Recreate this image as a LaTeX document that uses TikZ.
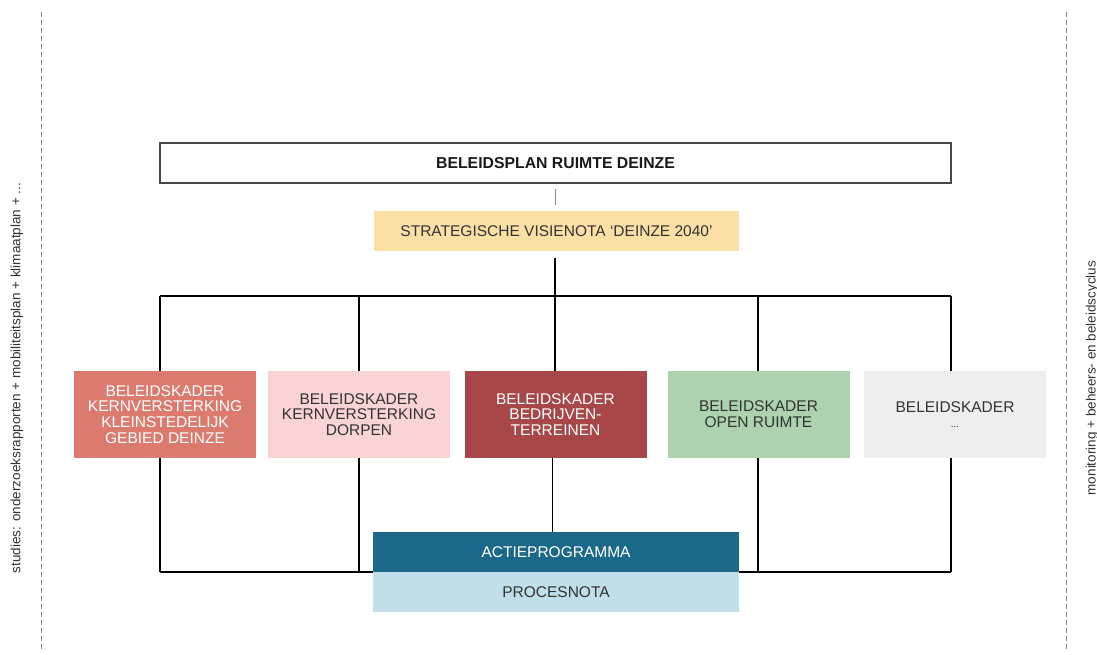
\documentclass[tikz,border=0pt]{standalone}
\usepackage{fontspec}
\setmainfont{Liberation Sans}
\definecolor{txtdark}{HTML}{333333}
\definecolor{stratfill}{HTML}{FBE0A6}
\definecolor{kaderA}{HTML}{DB7B70}
\definecolor{kaderB}{HTML}{FAD4D4}
\definecolor{kaderC}{HTML}{A8474A}
\definecolor{kaderD}{HTML}{ACD3AD}
\definecolor{kaderE}{HTML}{EEEEEE}
\definecolor{actiefill}{HTML}{1B6888}
\definecolor{procesfill}{HTML}{C1DFE8}
\definecolor{dashgray}{HTML}{888888}
\begin{document}
\begin{tikzpicture}[x=1pt,y=-1pt,
  boxtext/.style={inner sep=0pt, align=center, font=\fontsize{15.5}{15.7}\selectfont},
  kader/.style={boxtext, minimum width=182pt, minimum height=87pt},
  darktxt/.style={text=txtdark},
  lighttxt/.style={text=white},
  frameline/.style={draw=black, line width=1.2pt},
  sidetext/.style={rotate=90, inner sep=0pt, text=txtdark, font=\fontsize{13.5}{15}\selectfont},
  sideline/.style={draw=dashgray, line width=1pt, dash pattern=on 5pt off 3pt}]
\useasboundingbox (0,0) rectangle (1097,655);
\fill[white] (0,0) rectangle (1097,655);

% side dashed lines
\coordinate (lt) at (41,12); \coordinate (lb) at (41,650);
\coordinate (rt) at (1066,12); \coordinate (rb) at (1066,650);
\draw[sideline] (lt) -- (lb);
\draw[sideline] (rt) -- (rb);
\node[sidetext] (studies) at (17,378) {studies: onderzoeksrapporten + mobiliteitsplan + klimaatplan + ...};
\node[sidetext] (monitoring) at (1092,378) {monitoring + beheers- en beleidscyclus};

% frame coordinates
\coordinate (hub) at (555,296);
\coordinate (t1) at (160,296); \coordinate (b1) at (160,572);
\coordinate (t2) at (359,296); \coordinate (b2) at (359,572);
\coordinate (t4) at (758,296); \coordinate (b4) at (758,572);
\coordinate (t5) at (951,296); \coordinate (b5) at (951,572);

% top boxes
\node[boxtext, draw=txtdark!90, line width=1.3pt, minimum width=791pt, minimum height=40pt, text=black!90, font=\fontsize{15.8}{16}\selectfont\bfseries] (plan) at (555.5,163) {BELEIDSPLAN RUIMTE DEINZE};
\node[boxtext, fill=stratfill, darktxt, minimum width=365pt, minimum height=40pt] (strat) at (556.5,231) {STRATEGISCHE VISIENOTA ‘DEINZE 2040’};
\draw[draw=dashgray, line width=1pt] ([yshift=-5pt]plan.south -| hub) -- ([yshift=6pt]strat.north -| hub);

% frame lines
\draw[frameline] ([yshift=-7pt]strat.south -| hub) -- (hub);
\draw[frameline] (t1) -- (t5);
\draw[frameline] (b1) -- (b5);
\draw[frameline] (t1) -- (b1);
\draw[frameline] (t2) -- (b2);
\draw[frameline] (t4) -- (b4);
\draw[frameline] (t5) -- (b5);

% kader boxes
\node[kader, fill=kaderA, lighttxt] (k1) at (165,414.5) {BELEIDSKADER\\KERNVERSTERKING\\KLEINSTEDELIJK\\GEBIED DEINZE};
\node[kader, fill=kaderB, darktxt] (k2) at (359,414.5) {BELEIDSKADER\\KERNVERSTERKING\\DORPEN};
\node[kader, fill=kaderC, lighttxt] (k3) at (555.5,414.5) {BELEIDSKADER\\BEDRIJVEN-\\TERREINEN};
\node[kader, fill=kaderD, darktxt] (k4) at (758.5,414.5) {BELEIDSKADER\\OPEN RUIMTE};
\node[kader, fill=kaderE, darktxt] (k5) at (955,414.5) {BELEIDSKADER\\{\fontsize{10}{12}\selectfont ...}};

% action / process boxes
\node[boxtext, fill=actiefill, lighttxt, minimum width=366pt, minimum height=40pt] (actie) at (556,552) {ACTIEPROGRAMMA};
\node[boxtext, fill=procesfill, darktxt, minimum width=366pt, minimum height=40pt] (proces) at (556,592) {PROCESNOTA};

\draw[frameline] (hub) -- (hub |- k3.north);
\draw[frameline] ([xshift=-3pt]k3.south) -- ([xshift=-3pt]k3.south |- actie.north);
\end{tikzpicture}
\end{document}
